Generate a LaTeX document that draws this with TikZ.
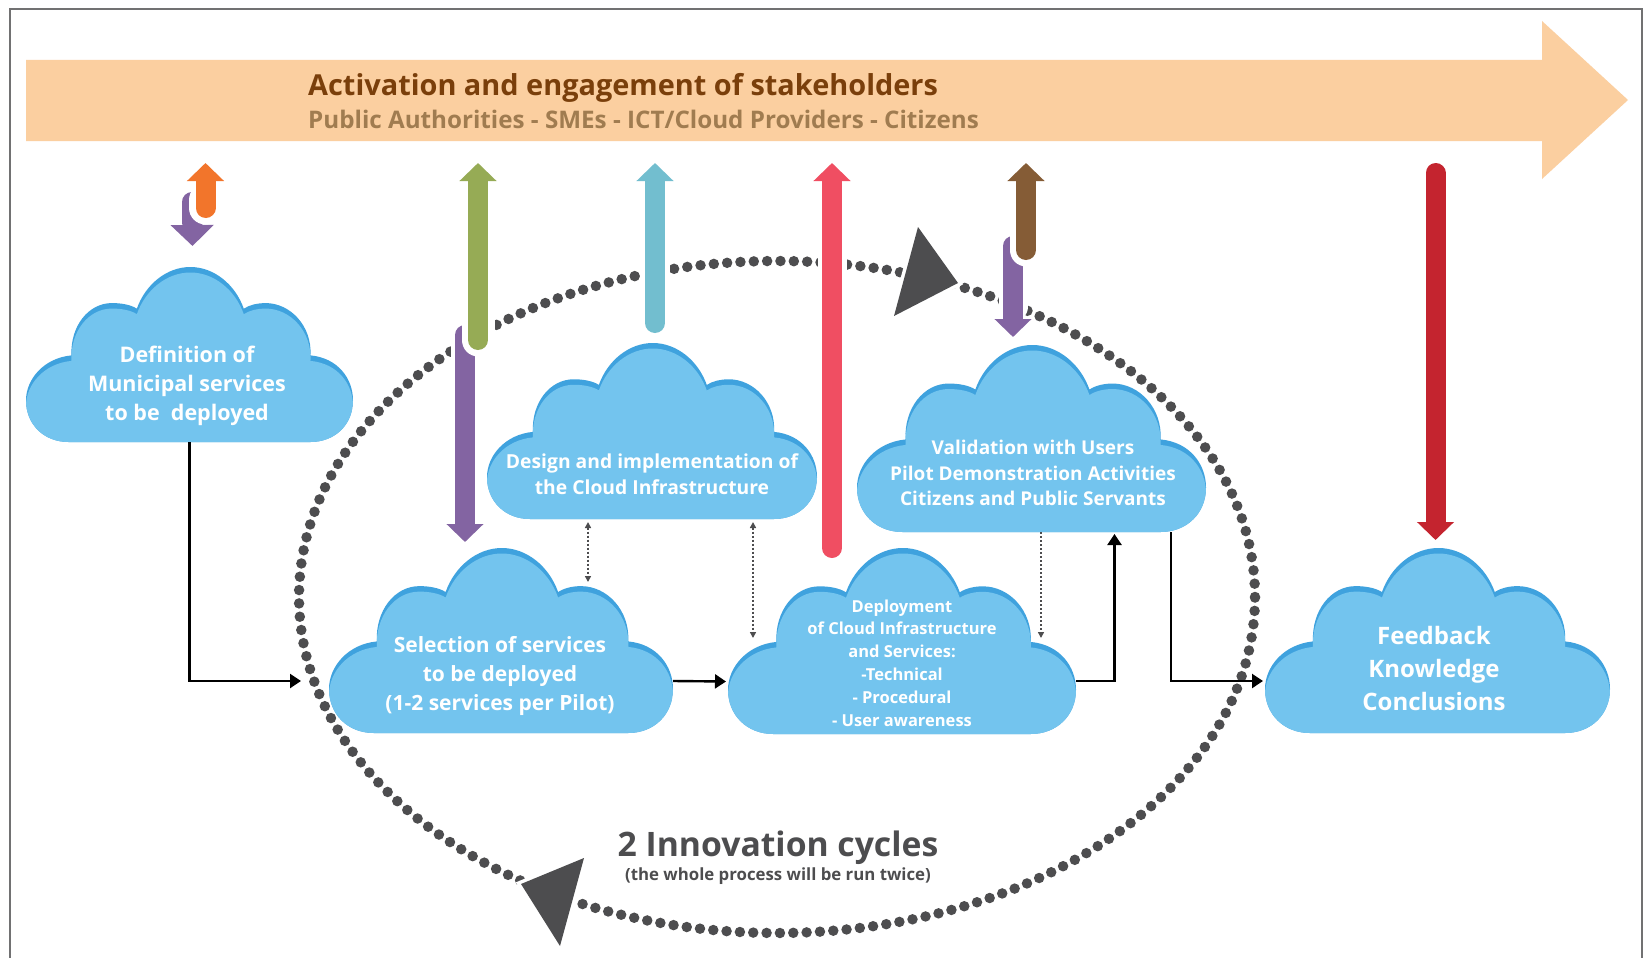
\documentclass[tikz,border=0pt]{standalone}
\usepackage{fontspec}
\setmainfont{Open Sans}
\usetikzlibrary{arrows.meta,calc}
\definecolor{cloudL}{HTML}{73C4EE}
\definecolor{cloudD}{HTML}{3FA2DE}
\definecolor{band}{HTML}{FBCFA0}
\definecolor{titleC}{HTML}{7A3F0B}
\definecolor{subC}{HTML}{A07C50}
\definecolor{dotC}{HTML}{4D4D4F}
\definecolor{aOrange}{HTML}{F2752B}
\definecolor{aPurple}{HTML}{8364A2}
\definecolor{aGreen}{HTML}{96AB55}
\definecolor{aTeal}{HTML}{72BECF}
\definecolor{aPink}{HTML}{F04E62}
\definecolor{aBrown}{HTML}{855C36}
\definecolor{aRed}{HTML}{C4242F}
\newcommand{\cloudoutline}{(.13,0) -- (.87,0)
 .. controls (.945,0) and (1,.1) .. (1,.238)
 .. controls (1,.36) and (.955,.48) .. (.87,.495)
 .. controls (.875,.66) and (.81,.794) .. (.732,.794)
 .. controls (.71,.794) and (.685,.785) .. (.666,.762)
 .. controls (.64,.9) and (.575,1) .. (.5025,1)
 .. controls (.43,1) and (.365,.9) .. (.339,.762)
 .. controls (.32,.785) and (.29,.794) .. (.263,.794)
 .. controls (.19,.794) and (.135,.66) .. (.139,.495)
 .. controls (.055,.48) and (0,.36) .. (0,.238)
 .. controls (0,.1) and (.055,0) .. (.13,0) -- cycle}
\newcommand{\cloudat}[5]{%
 \pgfmathsetmacro{\cw}{#4-#2}\pgfmathsetmacro{\ch}{#5-#3}
 \begin{scope}[shift={(#2,#5)},x=\cw pt,y=\ch pt]
  \fill[cloudD] \cloudoutline;
  \begin{scope}
   \clip \cloudoutline;
   \fill[cloudL,yshift=-5.5pt] \cloudoutline;
  \end{scope}
 \end{scope}
 \node[cloudbox,minimum width=\cw pt,minimum height=\ch pt] (#1) at ({(#2+#4)/2},{(#3+#5)/2}) {};
}
\tikzset{
 cloudbox/.style={inner sep=0pt,outer sep=0pt},
 cloudtext/.style={inner sep=0pt,text=white,align=center},
 conn/.style={draw=black,line width=2.4pt,-{Triangle[width=14pt,length=11pt]}},
 dotlink/.style={draw=dotC,line width=1.5pt,dash pattern=on 2pt off 2pt},
 fatup/.style={line width=20pt,line cap=round,-{Triangle[width=36pt,length=18pt]}},
 halo/.style={draw=white,line width=29pt,line cap=round},
 halotip/.style={draw=white,line width=33pt,line cap=round},
}
\begin{document}
\begin{tikzpicture}[x=1pt,y=-1pt]
\useasboundingbox (0,0) rectangle (1644,958);
\fill[white] (0,0) rectangle (1644,958);
% frame
\coordinate (fa) at (10,958);\coordinate (fb) at (10,9);\coordinate (fc) at (1642,9);\coordinate (fd) at (1642,958);
\draw[draw=dotC!80,line width=2.6pt] (fa) -- (fb) -- (fc) -- (fd);
% band arrow
\fill[band] (26,60) -- (1542,60) -- (1542,21) -- (1628,100) -- (1542,179) -- (1542,141) -- (26,141) -- cycle;
\node[anchor=west,inner sep=0pt,text=titleC,font=\fontsize{28.9}{32}\selectfont\bfseries] (title) at (308,88) {Activation and engagement of stakeholders};
\node[anchor=west,inner sep=0pt,text=subC,font=\fontsize{24.2}{28}\selectfont\bfseries] (subtitle) at (308,119) {Public Authorities - SMEs - ICT/Cloud Providers - Citizens};
% cycle
\node[draw=none,inner sep=0pt] (cyc) at (777,597) {};
\draw[draw=dotC,line width=10.5pt,line cap=round,dash pattern=on 0pt off 13.35pt] (cyc) ellipse [x radius=478pt,y radius=336pt];
\draw[white,line width=7pt] (918,227) -- (958,283) -- (894,316) -- cycle;
\fill[dotC] (918,227) -- (958,283) -- (894,316) -- cycle;
\draw[white,line width=7pt] (584,858) -- (521,884) -- (560,946) -- cycle;
\fill[dotC] (584,858) -- (521,884) -- (560,946) -- cycle;
% clouds
\cloudat{c1}{26}{267}{353}{442}
\cloudat{c2}{329}{548}{673}{733}
\cloudat{c3}{487}{343}{817}{519}
\cloudat{c4}{728}{548}{1076}{734}
\cloudat{c5}{857}{345}{1206}{532}
\cloudat{c6}{1265}{548}{1610}{733}
\node[cloudtext,font=\fontsize{21.5}{29}\selectfont\bfseries] (t1) at (187,386) {Definition of\\Municipal services\\to be\ \ deployed};
\node[cloudtext,font=\fontsize{21}{29}\selectfont\bfseries] (t2) at (500,676) {Selection of services\\to be deployed\\(1-2 services per Pilot)};
\node[cloudtext,font=\fontsize{19.3}{25.5}\selectfont\bfseries] (t3) at (652,474) {Design and implementation of\\the Cloud Infrastructure};
\node[cloudtext,font=\fontsize{16.5}{22.8}\selectfont\bfseries] (t4) at (902,663) {Deployment\\of Cloud Infrastructure\\and Services:\\-Technical\\- Procedural\\- User awareness};
\node[cloudtext,font=\fontsize{19}{25.5}\selectfont\bfseries] (t5) at (1033,473) {Validation with Users\\Pilot Demonstration Activities\\Citizens and Public Servants};
\node[cloudtext,font=\fontsize{24}{33}\selectfont\bfseries] (t6) at (1434,668) {Feedback\\Knowledge\\Conclusions};
% fat arrows
\coordinate (o0) at (205.5,163);\coordinate (o1) at (205.5,208);
\coordinate (p0) at (192,202);\coordinate (p1) at (192.5,246);
\draw[aPurple,fatup,-{Triangle[width=42pt,length=21pt]}] (p0) -- (p1);
\draw[halotip] ($(o1)+(0,-8)$) -- (o1);
\draw[aOrange,fatup] (o1) -- (o0);
\coordinate (g0) at (478,163);\coordinate (g1) at (478,340);
\coordinate (q0) at (465,335);\coordinate (q1) at (465,542);
\draw[halo] (q0) -- ($(q1)+(0,-30)$);
\draw[aPurple,fatup] (q0) -- (q1);
\draw[halotip] ($(g1)+(0,-60)$) -- (g1);
\draw[halo] ($(g1)+(0,-170)$) -- (g1);
\draw[aGreen,fatup] (g1) -- (g0);
\coordinate (te0) at (655,163);\coordinate (te1) at (655,323);
\draw[halo] ($(te0)+(0,20)$) -- ($(te1)+(0,-20)$);
\draw[aTeal,fatup] (te1) -- (te0);
\coordinate (pi0) at (832,163);\coordinate (pi1) at (832,548);
\draw[halo] ($(pi0)+(0,20)$) -- ($(pi0)+(0,200)$);
\draw[aPink,fatup] (pi1) -- (pi0);
\coordinate (m0) at (1013,246);\coordinate (m1) at (1013,337);
\draw[halo] (m0) -- ($(m1)+(0,-30)$);
\draw[aPurple,fatup] (m0) -- (m1);
\coordinate (b0) at (1026,163);\coordinate (b1) at (1026,250);
\draw[halotip] ($(b1)+(0,-40)$) -- (b1);
\draw[aBrown,fatup] (b1) -- (b0);
\coordinate (r0) at (1435.5,173);\coordinate (r1) at (1435.5,540);
\draw[aRed,fatup] (r0) -- (r1);
% connectors
\coordinate (inlet) at (301,681);
\draw[conn] (c1.south) |- (inlet);
\draw[conn] ([yshift=-40.5pt]c2.east) -- ([yshift=-40.5pt,xshift=-2pt]c4.west);
\draw[conn] ([yshift=-40pt]c4.east) -| ([xshift=83pt,yshift=-2pt]c5.south);
\draw[conn] ([xshift=139.5pt]c5.south) |- ([yshift=-40.5pt,xshift=-2pt]c6.west);
\draw[dotlink,{Triangle[width=6pt,length=6pt]}-{Triangle[width=6pt,length=6pt]}] ([xshift=-64pt,yshift=-3pt]c3.south) -- ([xshift=87pt,yshift=-34pt]c2.north);
\draw[dotlink,{Triangle[width=6pt,length=6pt]}-{Triangle[width=6pt,length=6pt]}] ([xshift=101pt,yshift=-3pt]c3.south) -- ([xshift=-149pt,yshift=-90pt]c4.north);
\draw[dotlink,-{Triangle[width=6pt,length=6pt]}] ([xshift=9.5pt]c5.south) -- ([xshift=139pt,yshift=-90pt]c4.north);
% caption
\node[inner sep=0pt,text=dotC,font=\fontsize{33.7}{36}\selectfont\bfseries] (cap1) at (778,848) {2 Innovation cycles};
\node[inner sep=0pt,text=dotC,font=\fontsize{16.8}{20}\selectfont\bfseries] (cap2) at (778,876) {(the whole process will be run twice)};
\end{tikzpicture}
\end{document}
